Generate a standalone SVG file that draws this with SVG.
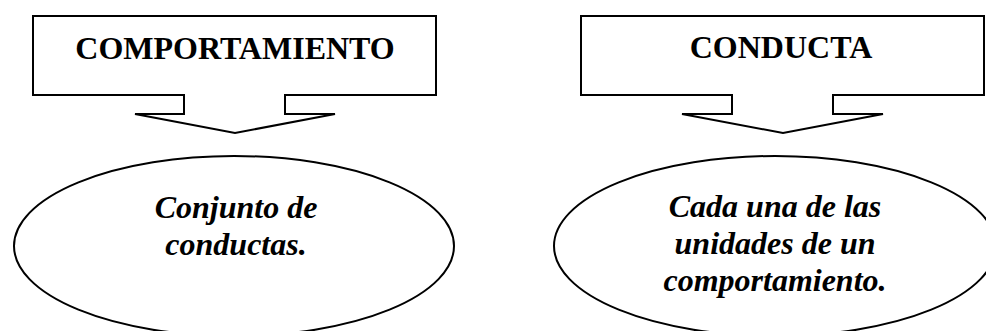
<svg xmlns="http://www.w3.org/2000/svg" width="986" height="331" viewBox="0 0 986 331">
<style>
.shape{fill:#fff;stroke:#000;stroke-width:2;stroke-linejoin:miter}
.title{font-family:"Liberation Serif","Times New Roman",serif;font-weight:bold;font-size:32px;text-anchor:middle;fill:#000}
.body{font-family:"Liberation Serif","Times New Roman",serif;font-weight:bold;font-style:italic;font-size:32px;text-anchor:middle;fill:#000}
</style>
<rect width="986" height="331" fill="#fff"/>
<g id="callout-comportamiento">
<path class="shape" d="M33,16 H436 V95 H285 V114 H335 L235,133 L135,114 H184 V95 H33 Z"/>
<text class="title" x="235" y="59">COMPORTAMIENTO</text>
</g>
<g id="callout-conducta">
<path class="shape" d="M581,16 H984 V95 H833 V114 H883 L783,133 L682,114 H732 V95 H581 Z"/>
<text class="title" x="781" y="58">CONDUCTA</text>
</g>
<g id="connectors"></g>
<g id="ellipse-comportamiento">
<ellipse class="shape" cx="234" cy="246" rx="220" ry="90"/>
<text class="body" x="236" y="218">Conjunto de</text>
<text class="body" x="236" y="255">conductas.</text>
</g>
<g id="ellipse-conducta">
<ellipse class="shape" cx="775" cy="246" rx="221" ry="90"/>
<text class="body" x="775" y="217">Cada una de las</text>
<text class="body" x="775" y="254">unidades de un</text>
<text class="body" x="775" y="291">comportamiento.</text>
</g>
</svg>
